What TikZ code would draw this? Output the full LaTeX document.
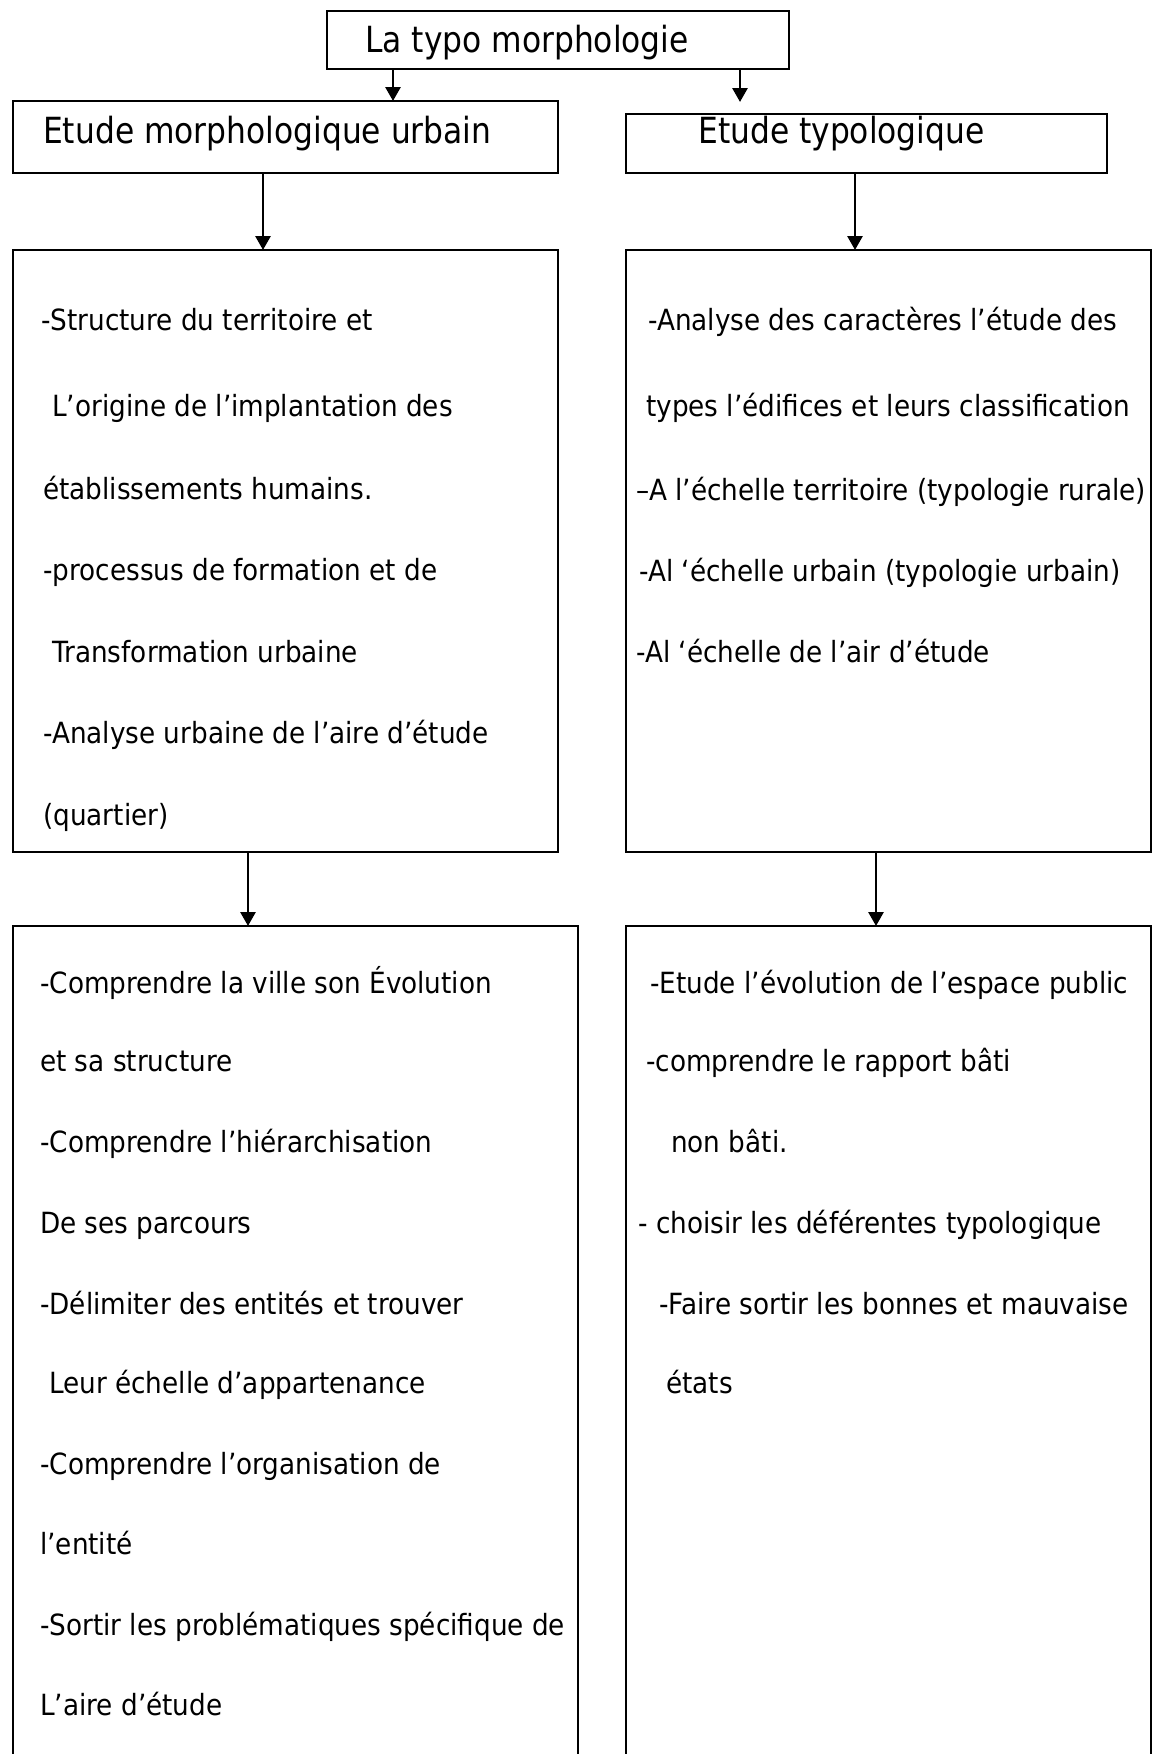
\documentclass[tikz,border=0pt]{standalone}
\usepackage{fontspec}
\setmainfont{DejaVu Sans}
\newfontfamily\headfont[FakeStretch=0.87]{DejaVu Sans}
\newfontfamily\bodyfont[FakeStretch=0.9]{DejaVu Sans}
\usetikzlibrary{arrows.meta}
\begin{document}
\begin{tikzpicture}[x=1pt,y=-1pt,
  box/.style={draw, line width=2.8pt, rectangle, inner sep=0pt, outer sep=0pt, anchor=north west},
  head/.style={anchor=base west, inner sep=0pt, font=\headfont\fontsize{36}{40}\selectfont},
  body/.style={anchor=base west, inner sep=0pt, font=\bodyfont\fontsize{29.2}{32}\selectfont},
  arr/.style={line width=2.8pt, -{Triangle[width=15pt,length=14pt]}}]
\useasboundingbox (0,0) rectangle (1154,1754);
\fill[white] (0,0) rectangle (1154,1754);
\clip (0,0) rectangle (1154,1754);

% boxes
\node[box, minimum width=462pt, minimum height=58pt] (top) at (327,11) {};
\node[box, minimum width=545pt, minimum height=72pt] (left2) at (13,101) {};
\node[box, minimum width=481pt, minimum height=59pt] (right2) at (626,114) {};
\node[box, minimum width=545pt, minimum height=602pt] (left3) at (13,250) {};
\node[box, minimum width=525pt, minimum height=602pt] (right3) at (626,250) {};
\node[box, minimum width=565pt, minimum height=900pt] (left4) at (13,926) {};
\node[box, minimum width=525pt, minimum height=900pt] (right4) at (626,926) {};

% arrow columns
\coordinate (ca) at (393,0);
\coordinate (cb) at (740,0);
\coordinate (cc) at (263,0);
\coordinate (cd) at (855,0);
\coordinate (ce) at (248,0);
\coordinate (cf) at (876,0);

\draw[arr] (top.south -| ca) -- (left2.north -| ca);
\draw[arr, shorten >=12pt] (top.south -| cb) -- (right2.north -| cb);
\draw[arr] (left2.south -| cc) -- (left3.north -| cc);
\draw[arr] (right2.south -| cd) -- (right3.north -| cd);
\draw[arr] (left3.south -| ce) -- (left4.north -| ce);
\draw[arr] (right3.south -| cf) -- (right4.north -| cf);

% headings
\node[head] (ttop) at (365,52) {La typo morphologie};
\node[head] (tl2) at (43,143) {Etude morphologique urbain};
\node[head] (tr2) at (698,143) {Etude typologique};

% left box 3
\node[body] (l3a) at (41,330) {-Structure du territoire et};
\node[body] (l3b) at (52,416) {L’origine de l’implantation des};
\node[body] (l3c) at (43,499) {établissements humains.};
\node[body] (l3d) at (43,580) {-processus de formation et de};
\node[body] (l3e) at (52,662) {Transformation urbaine};
\node[body] (l3f) at (43,743) {-Analyse urbaine de l’aire d’étude};
\node[body] (l3g) at (43,825) {(quartier)};

% right box 3
\node[body] (r3a) at (648,330) {-Analyse des caractères l’étude des};
\node[body] (r3b) at (646,416) {types l’édifices et leurs classification};
\node[body] (r3c) at (636,500) {–A l’échelle territoire (typologie rurale)};
\node[body] (r3d) at (639,581) {-Al ‘échelle urbain (typologie urbain)};
\node[body] (r3e) at (636,662) {-Al ‘échelle de l’air d’étude};

% left box 4
\node[body] (l4a) at (40,993) {-Comprendre la ville son Évolution};
\node[body] (l4b) at (40,1071) {et sa structure};
\node[body] (l4c) at (40,1152) {-Comprendre l’hiérarchisation};
\node[body] (l4d) at (40,1233) {De ses parcours};
\node[body] (l4e) at (40,1314) {-Délimiter des entités et trouver};
\node[body] (l4f) at (49,1393) {Leur échelle d’appartenance};
\node[body] (l4g) at (40,1474) {-Comprendre l’organisation de};
\node[body] (l4h) at (40,1554) {l’entité};
\node[body] (l4i) at (40,1635) {-Sortir les problématiques spécifique de};
\node[body] (l4j) at (40,1715) {L’aire d’étude};

% right box 4
\node[body] (r4a) at (650,993) {-Etude l’évolution de l’espace public};
\node[body] (r4b) at (646,1071) {-comprendre le rapport bâti};
\node[body] (r4c) at (671,1152) {non bâti.};
\node[body] (r4d) at (638,1233) {- choisir les déférentes typologique};
\node[body] (r4e) at (659,1314) {-Faire sortir les bonnes et mauvaise};
\node[body] (r4f) at (666,1393) {états};
\end{tikzpicture}
\end{document}
